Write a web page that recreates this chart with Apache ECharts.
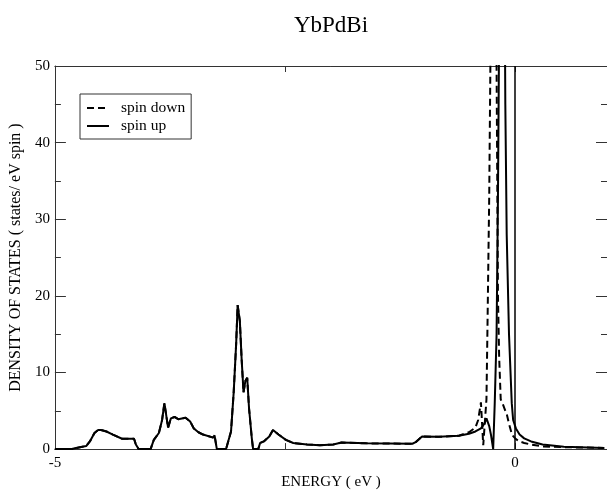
<!DOCTYPE html>
<html>
<head>
<meta charset="utf-8">
<script src="https://cdn.jsdelivr.net/npm/echarts@6/dist/echarts.min.js"></script>
<style>
html,body{margin:0;padding:0;background:#fff;}
#chart{width:607px;height:495px;}
</style>
</head>
<body>
<div id="chart"></div>
<script>
// Energy grid (eV)
var energy = [-5.00, -4.82, -4.785, -4.66, -4.62, -4.57, -4.53, -4.50, -4.44, -4.37,
  -4.27, -4.14, -4.12, -4.09, -3.96, -3.925, -3.87, -3.835, -3.81, -3.77,
  -3.74, -3.70, -3.66, -3.58, -3.56, -3.53, -3.49, -3.44, -3.39, -3.28,
  -3.265, -3.24, -3.14, -3.086, -3.057, -3.03, -3.014, -2.99, -2.97, -2.95,
  -2.93, -2.91, -2.89, -2.86, -2.846, -2.79, -2.77, -2.73, -2.67, -2.63,
  -2.57, -2.49, -2.41, -2.26, -2.12, -1.975, -1.885, -1.62, -1.115, -1.08,
  -1.01, -0.83, -0.61, -0.50, -0.43, -0.40, -0.37, -0.345, -0.33, -0.31,
  -0.30, -0.28, -0.26, -0.237, -0.22, -0.20, -0.185, -0.172, -0.155, -0.13,
  -0.105, -0.09, -0.065, -0.035, -0.02, 0.01, 0.05, 0.10, 0.175, 0.30,
  0.53, 0.97];

// spin up DOS (states / eV spin)
var spinUp = [0, 0, 0.1, 0.4, 1.0, 2.1, 2.5, 2.5, 2.3, 1.9,
  1.35, 1.35, 0.6, 0, 0, 1.2, 2.1, 3.8, 6.0, 2.8,
  4.0, 4.2, 3.9, 4.1, 4.3, 3.6, 2.7, 2.2, 1.9, 1.5,
  1.8, 0, 0, 2.3, 7.4, 13.8, 18.8, 16.7, 11.6, 7.4,
  8.9, 9.3, 5.3, 1.4, 0, 0, 0.8, 1.0, 1.65, 2.5,
  1.9, 1.2, 0.8, 0.6, 0.5, 0.6, 0.85, 0.75, 0.7, 0.9,
  1.65, 1.6, 1.75, 2.0, 2.3, 2.5, 2.7, 3.1, 3.4, 4.0,
  4.2, 3.0, 1.8, 0, 6, 15, 33, 55, 90, 100,
  45, 28, 15, 6, 3.8, 2.7, 1.9, 1.4, 1.0, 0.6,
  0.3, 0.15];

// spin down DOS (states / eV spin)
var spinDown = [0, 0, 0.1, 0.4, 1.0, 2.1, 2.5, 2.5, 2.3, 1.9,
  1.35, 1.35, 0.6, 0, 0, 1.2, 2.1, 3.8, 6.0, 2.8,
  4.0, 4.2, 3.9, 4.1, 4.3, 3.6, 2.7, 2.2, 1.9, 1.5,
  1.8, 0, 0, 2.3, 7.4, 13.8, 18.8, 16.7, 11.6, 7.4,
  8.9, 9.3, 5.3, 1.4, 0, 0, 0.8, 1.0, 1.65, 2.5,
  1.9, 1.2, 0.8, 0.6, 0.5, 0.6, 0.85, 0.75, 0.7, 0.9,
  1.65, 1.6, 1.75, 2.2, 2.8, 3.8, 6.1, 0.5, 0.3, 6.5,
  15, 33, 60, 110, 100, 50, 20, 12, 6.5, 5.8,
  5.0, 4.6, 3.3, 2.0, 1.7, 1.3, 1.0, 0.8, 0.6, 0.35,
  0.25, 0.15];

var seriesNames = ['spin down', 'spin up'];
var fermiLevel = 0;

function pairs(xs, ys) {
  var out = [];
  for (var i = 0; i < xs.length; i++) out.push([xs[i], ys[i]]);
  return out;
}

var serif = 'Liberation Serif';
var axisColor = '#333';

var chart = echarts.init(document.getElementById('chart'), null, {renderer: 'canvas'});
chart.setOption({
  animation: false,
  backgroundColor: '#fff',
  title: {
    text: 'YbPdBi',
    left: 331,
    top: 14,
    padding: 0,
    textAlign: 'center',
    textStyle: {fontFamily: serif, fontSize: 23, fontWeight: 'normal', color: '#000'}
  },
  legend: {
    show: true,
    orient: 'vertical',
    left: 80,
    top: 94,
    padding: [6, 6, 5, 6],
    itemGap: 2,
    itemWidth: 22,
    itemHeight: 14,
    borderColor: '#333',
    borderWidth: 1,
    itemStyle: {opacity: 0},
    data: seriesNames,
    textStyle: {fontFamily: serif, fontSize: 15.5, color: '#000', padding: [0, 0, 0, 7]}
  },
  grid: {left: 52, top: 66, width: 558, height: 392, containLabel: false},
  xAxis: [{
    type: 'value',
    position: 'bottom',
    min: -5, max: 1, interval: 2.5,
    name: 'ENERGY ( eV )',
    nameLocation: 'middle',
    nameGap: 20,
    nameTextStyle: {fontFamily: serif, fontSize: 15, color: '#000'},
    axisLine: {show: true, onZero: false, lineStyle: {color: axisColor, width: 1}},
    axisTick: {show: true, inside: true, length: 6, lineStyle: {color: axisColor}},
    axisLabel: {
      show: true, margin: 6, showMaxLabel: false,
      fontFamily: serif, fontSize: 15, color: '#000',
      formatter: function (v) { return (Math.abs(v % 5) < 1e-9) ? String(v) : ''; }
    },
    splitLine: {show: false}
  }, {
    type: 'value',
    position: 'top',
    min: -5, max: 1, interval: 2.5,
    axisLine: {show: true, onZero: false, lineStyle: {color: axisColor, width: 1}},
    axisTick: {show: true, inside: true, length: 6, lineStyle: {color: axisColor}},
    axisLabel: {show: false},
    splitLine: {show: false}
  }],
  yAxis: [{
    type: 'value',
    position: 'left',
    min: 0, max: 50, interval: 10,
    name: 'DENSITY OF STATES ( states/ eV spin )',
    nameLocation: 'middle',
    nameGap: 26,
    nameRotate: 90,
    nameTextStyle: {fontFamily: serif, fontSize: 16, color: '#000'},
    axisLine: {show: true, onZero: false, lineStyle: {color: axisColor, width: 1}},
    axisTick: {show: true, inside: true, length: 11, lineStyle: {color: axisColor}},
    minorTick: {show: true, splitNumber: 2, length: 6, lineStyle: {color: axisColor}},
    axisLabel: {margin: 5, fontFamily: serif, fontSize: 15, color: '#000'},
    splitLine: {show: false},
    minorSplitLine: {show: false}
  }, {
    type: 'value',
    position: 'right',
    min: 0, max: 50, interval: 10,
    axisLine: {show: true, onZero: false, lineStyle: {color: axisColor, width: 1}},
    axisTick: {show: true, inside: true, length: 11, lineStyle: {color: axisColor}},
    minorTick: {show: true, splitNumber: 2, length: 6, lineStyle: {color: axisColor}},
    axisLabel: {show: false},
    splitLine: {show: false},
    minorSplitLine: {show: false}
  }],
  series: [{
    name: seriesNames[0],
    type: 'line',
    xAxisIndex: 0, yAxisIndex: 0,
    data: pairs(energy, spinDown),
    showSymbol: false, symbol: 'none',
    clip: true,
    color: '#000',
    lineStyle: {color: '#000', width: 2, type: [7, 4]}
  }, {
    name: seriesNames[1],
    type: 'line',
    xAxisIndex: 0, yAxisIndex: 0,
    data: pairs(energy, spinUp),
    showSymbol: false, symbol: 'none',
    clip: true,
    color: '#000',
    lineStyle: {color: '#000', width: 2, type: 'solid'},
    markLine: {
      silent: true,
      symbol: ['none', 'none'],
      label: {show: false},
      lineStyle: {color: '#000', width: 1.5, type: 'solid'},
      data: [{xAxis: fermiLevel}]
    }
  }]
});
</script>
</body>
</html>
